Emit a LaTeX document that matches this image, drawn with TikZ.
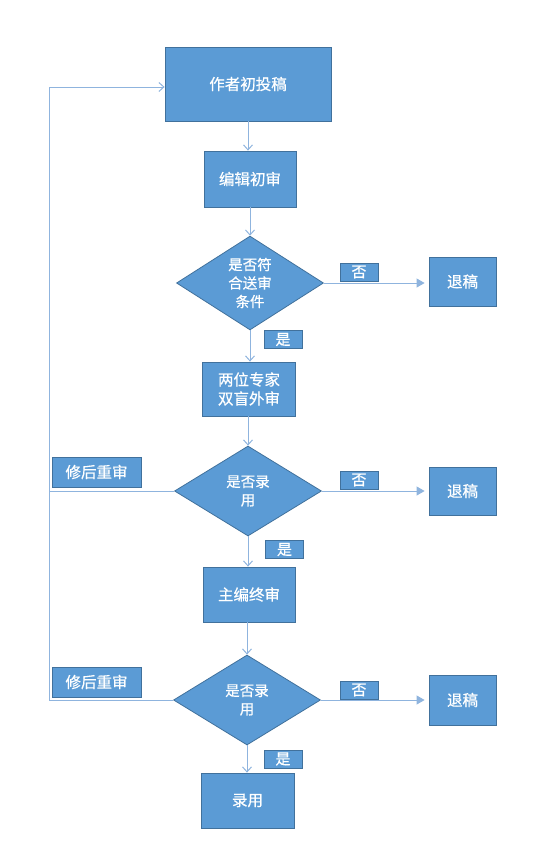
\documentclass[tikz,border=0pt]{standalone}
\usepackage{fontspec}
\setmainfont{Noto Sans CJK SC}[FakeBold=0.6]
\usetikzlibrary{shapes.geometric,arrows.meta}
\definecolor{boxfill}{HTML}{5B9BD5}
\definecolor{boxline}{HTML}{41719C}
\definecolor{conn}{HTML}{8FB4DE}
\tikzset{
  procbox/.style={draw=boxline,fill=boxfill,line width=0.8pt,text=white,font=\fontsize{15.5}{19}\selectfont,align=center,inner sep=0pt},
  decbox/.style={diamond,draw=boxline,fill=boxfill,line width=0.8pt,text=white,font=\fontsize{14.5}{18.5}\selectfont,align=center,inner sep=0pt,minimum width=147pt,minimum height=90pt},
  lblbox/.style={draw=boxline,fill=boxfill,line width=0.8pt,text=white,font=\fontsize{15}{16}\selectfont,inner sep=0pt,minimum width=38pt,minimum height=18pt},
  downarr/.style={draw=conn,line width=1pt,-{Straight Barb[length=5pt,width=9pt]}},
  rightarr/.style={draw=conn,line width=1pt,-{Triangle[length=8pt,width=9pt]},shorten >=4pt},
  plainline/.style={draw=conn,line width=1pt}
}
\begin{document}
\begin{tikzpicture}[x=1pt,y=-1pt]
\useasboundingbox (0,0) rectangle (540,863);
% main column
\node[procbox,minimum width=166pt,minimum height=74pt] (submit) at (248,84) {作者初投稿};
\node[procbox,minimum width=92pt,minimum height=56pt] (edit) at (250,179) {编辑初审};
\node[decbox] (d1) at (250,283) {是否符\\合送审\\条件};
\node[procbox,minimum width=67pt,minimum height=49pt] (rej1) at (462.5,281.5) {退稿};
\node[lblbox] (no1) at (359,272) {否};
\node[lblbox] (yes1) at (283,339.5) {是};
\node[procbox,minimum width=93pt,minimum height=54pt] (peer) at (249,389) {两位专家\\双盲外审};
\node[decbox] (d2) at (248,491) {是否录\\用};
\node[procbox,minimum width=67pt,minimum height=48pt] (rej2) at (462.5,491) {退稿};
\node[lblbox] (no2) at (359,480) {否};
\node[lblbox] (yes2) at (284.5,549.5) {是};
\node[procbox,minimum width=89pt,minimum height=30pt] (rev1) at (96.5,472) {修后重审};
\node[procbox,minimum width=92pt,minimum height=55pt] (chief) at (249,594.5) {主编终审};
\node[decbox] (d3) at (247,700) {是否录\\用};
\node[procbox,minimum width=67pt,minimum height=50pt] (rej3) at (462.5,700) {退稿};
\node[lblbox] (no3) at (359,690) {否};
\node[lblbox] (yes3) at (283,759) {是};
\node[procbox,minimum width=89pt,minimum height=30pt] (rev2) at (96.5,682) {修后重审};
\node[procbox,minimum width=93pt,minimum height=55pt] (accept) at (247.5,800.5) {录用};
% connectors
\draw[downarr] (submit.south) -- (submit.south |- edit.north);
\draw[downarr] (edit.south) -- (edit.south |- d1.north);
\draw[rightarr] (d1.east) -- (rej1.west |- d1.east);
\draw[downarr] (d1.south) -- (d1.south |- peer.north);
\draw[downarr] (peer.south -| d2.north) -- (d2.north);
\draw[rightarr] (d2.east) -- (rej2.west |- d2.east);
\draw[downarr] (d2.south) -- (d2.south |- chief.north);
\draw[downarr] (chief.south -| d3.north) -- (d3.north);
\draw[rightarr] (d3.east) -- (rej3.west |- d3.east);
\draw[downarr] (d3.south) -- (d3.south |- accept.north);
% feedback loop
\coordinate (loopB) at (49,700);
\coordinate (loopT) at (49,87);
\draw[plainline] (d2.west) -- (49,491);
\draw[plainline] (d3.west) -- (loopB) -- (loopT);
\draw[downarr] (loopT) -- (submit.west |- loopT);
\end{tikzpicture}
\end{document}
